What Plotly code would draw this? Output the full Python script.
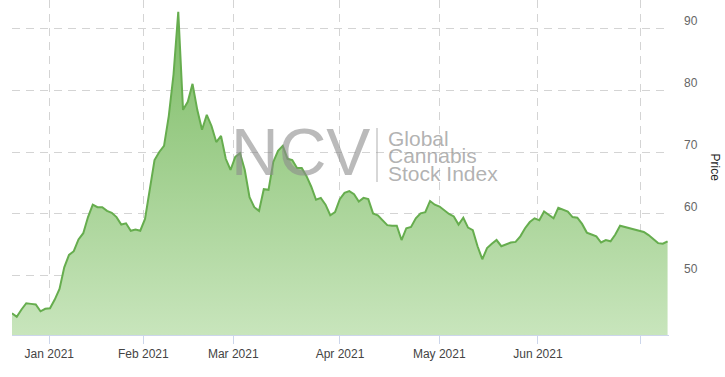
import plotly.graph_objects as go

# Daily index closes (ordinal trading-day axis)
price = [
    44.0, 43.4, 44.6, 45.6, 45.5, 45.4, 44.3, 44.7, 44.8, 46.2,
    47.9, 51.4, 53.4, 54.0, 55.9, 56.9, 59.5, 61.5, 61.1, 61.1,
    60.5, 60.2, 59.5, 58.3, 58.5, 57.3, 57.5, 57.3, 59.2, 64.1,
    68.7, 70.0, 71.0, 75.8, 82.5, 92.6, 76.8, 78.1, 81.0, 76.8,
    73.6, 76.0, 74.2, 71.6, 72.6, 68.9, 67.1, 69.2, 69.8, 67.1,
    62.7, 61.1, 60.5, 64.0, 63.9, 68.4, 70.2, 71.0, 68.9, 68.7,
    67.4, 67.4, 66.1, 64.4, 62.3, 62.6, 61.5, 59.8, 60.3, 62.4,
    63.4, 63.7, 63.2, 62.0, 62.6, 62.4, 60.1, 59.8, 59.0, 58.2,
    58.1, 58.1, 55.8, 57.7, 57.9, 59.3, 60.1, 60.3, 62.1, 61.5,
    61.2, 60.6, 60.0, 59.6, 58.3, 59.4, 57.8, 57.4, 54.8, 52.7,
    54.5, 55.2, 55.8, 54.8, 55.1, 55.4, 55.5, 56.4, 57.7, 58.7,
    59.3, 59.0, 60.4, 59.8, 59.3, 61.0, 60.7, 60.4, 59.5, 59.4,
    58.4, 57.0, 56.7, 56.4, 55.4, 55.8, 55.6, 56.7, 58.1, 57.9,
    57.7, 57.5, 57.3, 57.1, 56.6, 55.9, 55.3, 55.2, 55.6,
]
day_index = list(range(len(price)))

month_ticks = [7.85, 27.64, 46.58, 69.04, 89.94, 110.71, 132.33]
month_labels = ["Jan 2021", "Feb 2021", "Mar 2021", "Apr 2021", "May 2021", "Jun 2021", ""]
price_ticks = [50, 60, 70, 80, 90]

FONT = "Liberation Sans, Arial, sans-serif"
GRID = "#d4d4d4"

fig = go.Figure()
fig.add_trace(go.Scatter(
    x=day_index, y=price, mode="lines",
    line=dict(color="#66ad4e", width=2),
    fill="tozeroy",
    fillgradient=dict(type="vertical", start=40.5, stop=94.5,
                      colorscale=[[0, "rgb(200,229,188)"], [1, "rgb(122,186,98)"]]),
    hoverinfo="skip",
))

annotations = []
for v in price_ticks:
    annotations.append(dict(
        x=1, xref="paper", y=v, yref="y", text=str(v), showarrow=False,
        xanchor="left", yanchor="middle", xshift=13, yshift=7,
        font=dict(family=FONT, size=12, color="#666666"),
    ))
annotations.append(dict(
    x=1, xref="paper", y=0.5, yref="paper", text="Price", showarrow=False,
    xanchor="center", yanchor="middle", xshift=46, textangle=90,
    font=dict(family=FONT, size=12, color="#222222"),
))

# Watermark
PW, PH, PL = 657.0, 335.0, 12.0
def px(x):
    return (x - PL) / PW
def py(y):
    return 1 - y / PH

annotations.append(dict(
    x=px(300), xref="paper", y=py(152), yref="paper", text="NCV", showarrow=False,
    xanchor="center", yanchor="middle",
    font=dict(family=FONT, size=66, color="rgba(140,140,140,0.6)"),
))
for txt, yc in [("Global", 138.5), ("Cannabis", 156), ("Stock Index", 173.5)]:
    annotations.append(dict(
        x=px(386), xref="paper", y=py(yc), yref="paper", text=txt, showarrow=False,
        xanchor="left", yanchor="middle", height=17,
        font=dict(family=FONT, size=21, color="rgba(140,140,140,0.68)"),
    ))

fig.update_layout(
    width=725, height=377,
    margin=dict(l=12, r=56, t=0, b=42),
    paper_bgcolor="white", plot_bgcolor="white",
    showlegend=False,
    annotations=annotations,
    shapes=[dict(type="line", xref="paper", yref="paper",
                 x0=px(377), x1=px(377), y0=py(128), y1=py(182),
                 line=dict(color="rgba(150,150,150,0.5)", width=1.5))],
    xaxis=dict(
        range=[0, 138.3], tickmode="array", tickvals=month_ticks, ticktext=month_labels,
        showgrid=True, gridcolor=GRID, griddash="8px,6px", gridwidth=1,
        showline=True, linecolor="#ccd6eb", linewidth=1,
        ticks="outside", ticklen=8, tickcolor="#ccd6eb",
        tickfont=dict(family=FONT, size=12, color="#444444"),
        zeroline=False, fixedrange=True,
    ),
    yaxis=dict(
        range=[40.48, 94.52], side="right", tickmode="array", tickvals=price_ticks,
        showticklabels=False, showgrid=True, gridcolor=GRID, griddash="8px,6px",
        zeroline=False, showline=False, fixedrange=True,
    ),
)

fig.write_html("out.html", config={"displayModeBar": False},
               post_script="document.body.style.margin='0';")
